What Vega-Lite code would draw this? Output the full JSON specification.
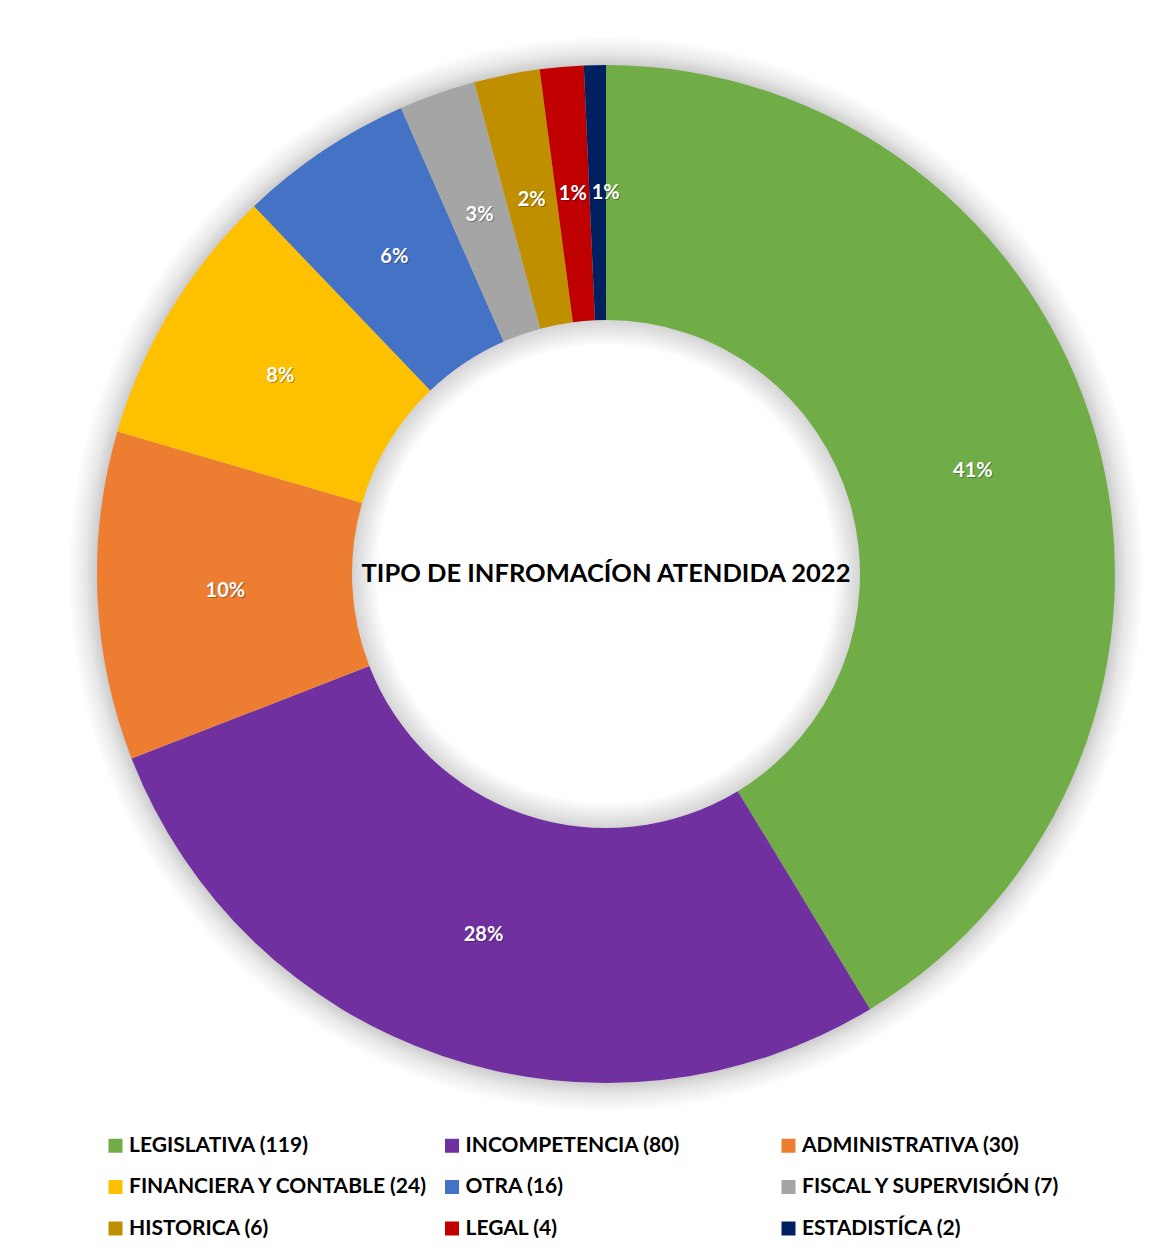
{
  "$schema": "https://vega.github.io/schema/vega-lite/v6.json",
  "width": 1136,
  "height": 1148,
  "padding": {"left": 38, "top": 0, "right": 0, "bottom": 107},
  "autosize": {"type": "none"},
  "background": "white",
  "config": {"view": {"stroke": null}},
  "datasets": {
    "cats": [
      {"idx": 1, "cat": "LEGISLATIVA (119)", "n": 119, "pct": "41%"},
      {"idx": 2, "cat": "INCOMPETENCIA (80)", "n": 80, "pct": "28%"},
      {"idx": 3, "cat": "ADMINISTRATIVA (30)", "n": 30, "pct": "10%"},
      {"idx": 4, "cat": "FINANCIERA Y CONTABLE (24)", "n": 24, "pct": "8%"},
      {"idx": 5, "cat": "OTRA (16)", "n": 16, "pct": "6%"},
      {"idx": 6, "cat": "FISCAL Y SUPERVISIÓN (7)", "n": 7, "pct": "3%"},
      {"idx": 7, "cat": "HISTORICA (6)", "n": 6, "pct": "2%"},
      {"idx": 8, "cat": "LEGAL (4)", "n": 4, "pct": "1%"},
      {"idx": 9, "cat": "ESTADISTÍCA (2)", "n": 2, "pct": "1%"}
    ]
  },
  "layer": [
    {
      "data": {"values": [{"s": 1}]},
      "mark": {
        "type": "arc",
        "outerRadius": 538,
        "innerRadius": 228,
        "fill": {
          "gradient": "radial",
          "x1": 0.5, "y1": 0.5, "x2": 0.5, "y2": 0.5, "r1": 0, "r2": 0.5,
          "stops": [
            {"offset": 0.424, "color": "#ffffff"},
            {"offset": 0.472, "color": "#d4d4d4"},
            {"offset": 0.946, "color": "#cccccc"},
            {"offset": 0.968, "color": "#e8e8e8"},
            {"offset": 1.0, "color": "#ffffff"}
          ]
        }
      },
      "encoding": {}
    },
    {
      "data": {"name": "cats"},
      "mark": {"type": "arc", "outerRadius": 509, "innerRadius": 254},
      "encoding": {
        "theta": {"field": "n", "type": "quantitative", "stack": true},
        "order": {"field": "idx", "type": "quantitative"},
        "color": {
          "field": "cat",
          "type": "nominal",
          "sort": null,
          "scale": {
            "domain": ["LEGISLATIVA (119)", "INCOMPETENCIA (80)", "ADMINISTRATIVA (30)", "FINANCIERA Y CONTABLE (24)", "OTRA (16)", "FISCAL Y SUPERVISIÓN (7)", "HISTORICA (6)", "LEGAL (4)", "ESTADISTÍCA (2)"],
            "range": ["#70AD47", "#7030A0", "#ED7D31", "#FFC000", "#4472C4", "#A5A5A5", "#BF8F00", "#C00000", "#002060"]
          },
          "legend": {
            "title": null,
            "orient": "none",
            "legendX": 67,
            "legendY": 1135,
            "direction": "horizontal",
            "columns": 3,
            "gridAlign": "all",
            "columnPadding": 12.5,
            "rowPadding": 19.5,
            "symbolType": "square",
            "symbolSize": 196,
            "symbolStrokeWidth": 0,
            "labelOffset": 3,
            "labelFont": "Lato",
            "labelFontWeight": "bold",
            "labelFontSize": 21,
            "labelColor": "#000000",
            "labelLimit": 0
          }
        }
      }
    },
    {
      "data": {"name": "cats"},
      "mark": {"type": "text", "radius": 381, "dx": 1, "dy": 1, "font": "Lato", "fontWeight": "bold", "fontSize": 20, "fill": "#000000", "opacity": 0.3, "align": "center", "baseline": "middle"},
      "encoding": {
        "theta": {"field": "n", "type": "quantitative", "stack": true},
        "order": {"field": "idx", "type": "quantitative"},
        "text": {"condition": {"test": "datum.idx != 9", "field": "pct"}, "value": ""}
      }
    },
    {
      "data": {"name": "cats"},
      "mark": {"type": "text", "radius": 381, "dx": 9, "dy": 1, "font": "Lato", "fontWeight": "bold", "fontSize": 20, "fill": "#000000", "opacity": 0.3, "align": "center", "baseline": "middle"},
      "encoding": {
        "theta": {"field": "n", "type": "quantitative", "stack": true},
        "order": {"field": "idx", "type": "quantitative"},
        "text": {"condition": {"test": "datum.idx == 9", "field": "pct"}, "value": ""}
      }
    },
    {
      "data": {"name": "cats"},
      "mark": {"type": "text", "radius": 381, "font": "Lato", "fontWeight": "bold", "fontSize": 20, "fill": "white", "align": "center", "baseline": "middle"},
      "encoding": {
        "theta": {"field": "n", "type": "quantitative", "stack": true},
        "order": {"field": "idx", "type": "quantitative"},
        "text": {"condition": {"test": "datum.idx != 9", "field": "pct"}, "value": ""}
      }
    },
    {
      "data": {"name": "cats"},
      "mark": {"type": "text", "radius": 381, "dx": 8, "font": "Lato", "fontWeight": "bold", "fontSize": 20, "fill": "white", "align": "center", "baseline": "middle"},
      "encoding": {
        "theta": {"field": "n", "type": "quantitative", "stack": true},
        "order": {"field": "idx", "type": "quantitative"},
        "text": {"condition": {"test": "datum.idx == 9", "field": "pct"}, "value": ""}
      }
    },
    {
      "data": {"values": [{"t": "TIPO DE INFROMACÍON ATENDIDA 2022"}]},
      "mark": {"type": "text", "font": "Lato", "fontWeight": "bold", "fontSize": 25.5, "fill": "black", "align": "center", "baseline": "middle"},
      "encoding": {"text": {"field": "t", "type": "nominal"}}
    }
  ]
}
